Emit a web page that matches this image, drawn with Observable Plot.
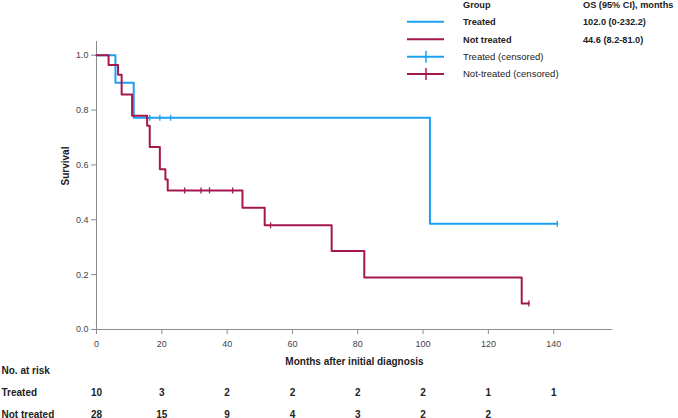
<!DOCTYPE html>
<html>
<head>
<meta charset="utf-8">
<script src="https://cdn.jsdelivr.net/npm/d3@7"></script>
<script src="https://cdn.jsdelivr.net/npm/@observablehq/plot@0.6"></script>
<style>
  body { margin: 0; background: #fff; font-family: "Liberation Sans", Arial, sans-serif; }
  #wrap { position: relative; width: 678px; height: 418px; }
  #legend { position: absolute; left: 0; top: 0; width: 678px; height: 90px; pointer-events: none; }
</style>
</head>
<body>
<div id="wrap"><div id="chart"></div><svg id="legend" width="678" height="90"></svg></div>
<script>
// ---- Data ----
const treatedTime = [0, 5.8, 11.4, 102.1, 141.1];
const treatedSurv = [1, 0.9, 0.772, 0.386, 0.386];
const treatedCensorTime = [16.3, 19.4, 22.7, 141.1];
const treatedCensorSurv = [0.772, 0.772, 0.772, 0.386];

const notTreatedTime = [0, 3.7, 6.6, 7.7, 10.9, 15.5, 16.3, 19.4, 21.1, 21.8, 44.7, 51.5, 72.0, 82.0, 130.2, 132.4];
const notTreatedSurv = [1, 0.964, 0.929, 0.857, 0.779, 0.743, 0.665, 0.584, 0.547, 0.507, 0.444, 0.380, 0.286, 0.190, 0.095, 0.095];
const notTreatedCensorTime = [27.0, 32.0, 34.6, 41.7, 53.3, 132.4];
const notTreatedCensorSurv = [0.507, 0.507, 0.507, 0.507, 0.380, 0.095];

const riskTimes = [0, 20, 40, 60, 80, 100, 120, 140];
const riskTreated = [10, 3, 2, 2, 2, 2, 1, 1];
const riskNotTreated = [28, 15, 9, 4, 3, 2, 2, null];

const xTicks = [0, 20, 40, 60, 80, 100, 120, 140];
const yTicks = [0, 0.2, 0.4, 0.6, 0.8, 1.0];

const groups = ["Treated", "Not treated"];
const medians = ["102.0 (0-232.2)", "44.6 (8.2-81.0)"];

const blue = "#1e9ff2";
const red = "#a5184f";
const axisGray = "#8c8c8c";
const ink = "#222";
const font = "Liberation Sans, Arial, sans-serif";

// ---- Build tables ----
const treated = treatedTime.map((t, i) => ({t, s: treatedSurv[i]}));
const notTreated = notTreatedTime.map((t, i) => ({t, s: notTreatedSurv[i]}));
const treatedC = treatedCensorTime.map((t, i) => ({t, s: treatedCensorSurv[i]}));
const notTreatedC = notTreatedCensorTime.map((t, i) => ({t, s: notTreatedCensorSurv[i]}));
const riskRowTreated = riskTimes.map((t, i) => ({t, n: riskTreated[i]}));
const riskRowNot = riskTimes.map((t, i) => ({t, n: riskNotTreated[i]})).filter(d => d.n != null);

const vbar = { draw(ctx, size) { const r = Math.sqrt(size / Math.PI); ctx.moveTo(0, -r); ctx.lineTo(0, r); } };

const rowDy = [44, 66, 88]; // header, Treated, Not treated (px below the x axis)

const chart = Plot.plot({
  width: 678,
  height: 418,
  marginLeft: 96,
  marginRight: 66,
  marginTop: 41,
  marginBottom: 89,
  style: { fontFamily: font, fontSize: "9px", background: "transparent", overflow: "visible" },
  x: { domain: [0, 158] },
  y: { domain: [0, 1.05] },
  marks: [
    Plot.ruleX([0], { stroke: axisGray, strokeWidth: 1 }),
    Plot.ruleY([0], { stroke: axisGray, strokeWidth: 1 }),
    Plot.axisX({ ticks: xTicks, tickSize: 5, tickPadding: 6, stroke: axisGray, fill: "#444", label: null, fontSize: 9 }),
    Plot.axisY({ ticks: yTicks, tickSize: 5, tickPadding: 3, stroke: axisGray, fill: "#444", label: null, tickFormat: d3.format(".1f"), fontSize: 9 }),
    Plot.line(treated, { x: "t", y: "s", curve: "step-after", stroke: blue, strokeWidth: 2 }),
    Plot.line(notTreated, { x: "t", y: "s", curve: "step-after", stroke: red, strokeWidth: 2 }),
    Plot.dot(treatedC, { x: "t", y: "s", symbol: vbar, r: 3, stroke: blue, strokeWidth: 1.3 }),
    Plot.dot(notTreatedC, { x: "t", y: "s", symbol: vbar, r: 3, stroke: red, strokeWidth: 1.3 }),
    Plot.text(["Survival"], { frameAnchor: "left", dx: -31, rotate: -90, fontWeight: "bold", fontSize: 10, fill: ink }),
    Plot.text(["Months after initial diagnosis"], { frameAnchor: "bottom", dy: 35, fontWeight: "bold", fontSize: 10, fill: ink }),
    Plot.text(["No. at risk"], { frameAnchor: "bottom-left", dx: -95, dy: rowDy[0], textAnchor: "start", fontWeight: "bold", fontSize: 10, fill: ink }),
    Plot.text([groups[0]], { frameAnchor: "bottom-left", dx: -95, dy: rowDy[1], textAnchor: "start", fontWeight: "bold", fontSize: 10, fill: ink }),
    Plot.text([groups[1]], { frameAnchor: "bottom-left", dx: -95, dy: rowDy[2], textAnchor: "start", fontWeight: "bold", fontSize: 10, fill: ink }),
    Plot.text(riskRowTreated, { x: "t", frameAnchor: "bottom", dy: rowDy[1], text: "n", fontWeight: "bold", fontSize: 10, fill: ink }),
    Plot.text(riskRowNot, { x: "t", frameAnchor: "bottom", dy: rowDy[2], text: "n", fontWeight: "bold", fontSize: 10, fill: ink })
  ]
});
document.getElementById("chart").appendChild(chart);

// ---- Legend ----
const lg = d3.select("#legend").style("font-family", font);
const rowsY = [21.7, 39.3, 56.7, 74];
const legendItems = [
  { label: "Treated", color: blue, censor: false, bold: true, os: medians[0] },
  { label: "Not treated", color: red, censor: false, bold: true, os: medians[1] },
  { label: "Treated (censored)", color: blue, censor: true, bold: false },
  { label: "Not-treated (censored)", color: red, censor: true, bold: false }
];
lg.append("text").attr("x", 463).attr("y", 8).attr("font-size", 9.2).attr("font-weight", "bold").attr("fill", ink).text("Group");
lg.append("text").attr("x", 583).attr("y", 8).attr("font-size", 9.2).attr("font-weight", "bold").attr("fill", ink).text("OS (95% CI), months");
legendItems.forEach((it, i) => {
  const y = rowsY[i];
  lg.append("line").attr("x1", 407).attr("x2", 444).attr("y1", y).attr("y2", y).attr("stroke", it.color).attr("stroke-width", 2);
  if (it.censor) lg.append("line").attr("x1", 426).attr("x2", 426).attr("y1", y - 6).attr("y2", y + 6).attr("stroke", it.color).attr("stroke-width", 1.5);
  lg.append("text").attr("x", 463).attr("y", y + 3.3).attr("font-size", it.bold ? 9.2 : 9.5).attr("font-weight", it.bold ? "bold" : "normal").attr("fill", ink).text(it.label);
  if (it.os) lg.append("text").attr("x", 583).attr("y", y + 3.3).attr("font-size", 9.2).attr("font-weight", "bold").attr("fill", ink).text(it.os);
});
</script>
</body>
</html>
